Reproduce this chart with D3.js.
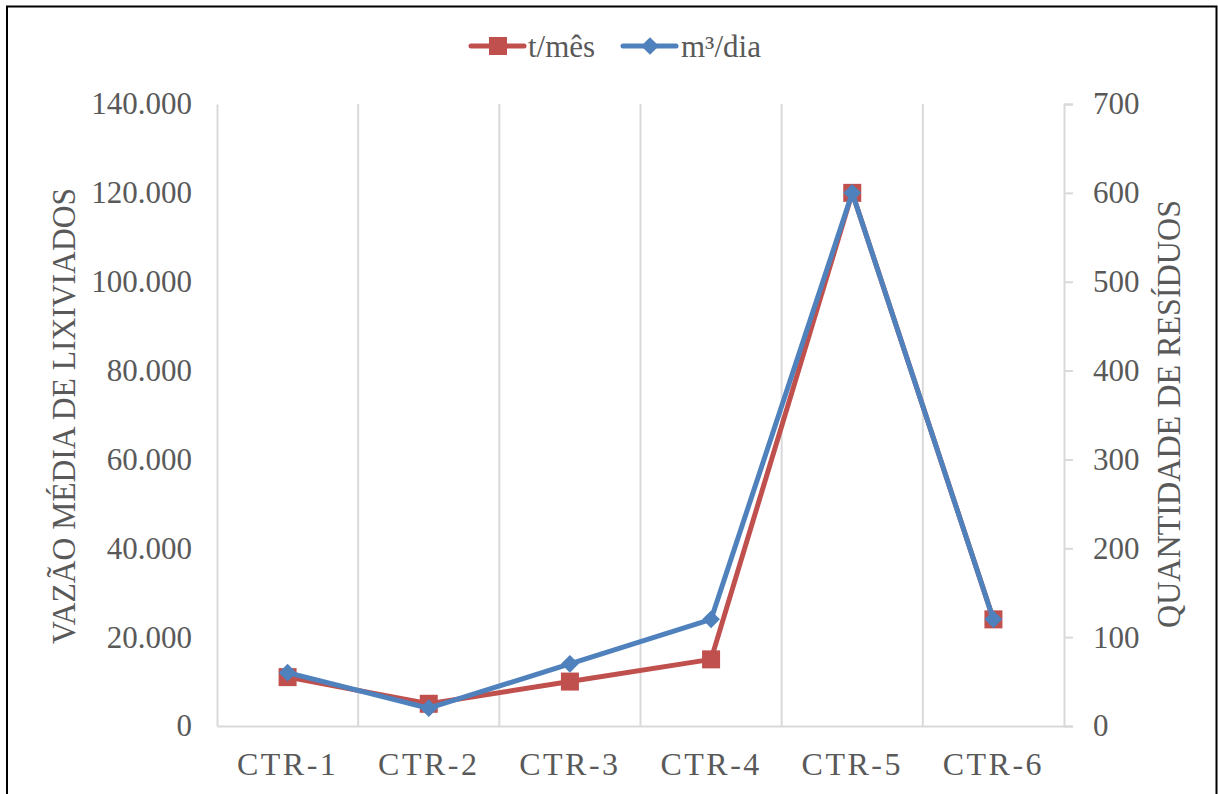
<!DOCTYPE html>
<html>
<head>
<meta charset="utf-8">
<script src="https://cdn.jsdelivr.net/npm/d3@7"></script>
<style>
  html, body { margin: 0; padding: 0; background: #fff; }
  svg { display: block; }
  text { font-family: "Liberation Serif", "Times New Roman", serif; fill: #595959; }
</style>
</head>
<body>
<svg id="chart" width="1218" height="794"></svg>
<script>
// CTR sites and the two measured series
const categories = ["CTR-1", "CTR-2", "CTR-3", "CTR-4", "CTR-5", "CTR-6"];
const tonsPerMonth = [11000, 5000, 10000, 15000, 120000, 24000];   // left axis
const cubicPerDay = [60, 20, 70, 120, 600, 120];                   // right axis
const leftTicks = [0, 20000, 40000, 60000, 80000, 100000, 120000, 140000];
const rightTicks = [0, 100, 200, 300, 400, 500, 600, 700];
const seriesNames = ["t/mês", "m³/dia"];
const leftTitle = "VAZÃO MÉDIA DE LIXIVIADOS";
const rightTitle = "QUANTIDADE DE RESÍDUOS";

const RED = "#C0504D", BLUE = "#4F81BD", GRID = "#D9D9D9";
const svg = d3.select("#chart");

const plot = { left: 217, right: 1064, top: 104, bottom: 726 };

const x = d3.scaleBand().domain(categories).range([plot.left, plot.right]).padding(0);
const yL = d3.scaleLinear().domain([0, 140000]).range([plot.bottom, plot.top]);
const yR = d3.scaleLinear().domain([0, 700]).range([plot.bottom, plot.top]);

const pt = d3.formatLocale({ decimal: ",", thousands: ".", grouping: [3], currency: ["R$", ""] });
const fmt = pt.format(",d");

// outer frame (bottom edge runs past the canvas)
svg.append("path")
  .attr("d", `M7,800 V6.5 H1216.5 V800`)
  .attr("fill", "none").attr("stroke", "#000").attr("stroke-width", 2);

// vertical category separators
const bounds = categories.slice(1).map(c => x(c));
svg.append("g").selectAll("line").data(bounds).join("line")
  .attr("x1", d => d).attr("x2", d => d)
  .attr("y1", plot.top).attr("y2", plot.bottom)
  .attr("stroke", GRID).attr("stroke-width", 2);

// left axis: line + labels, no tick marks
const gL = svg.append("g").attr("transform", `translate(${plot.left},0)`)
  .call(d3.axisLeft(yL).tickValues(leftTicks).tickFormat(fmt).tickSize(0).tickPadding(25));
gL.select(".domain").attr("stroke", GRID).attr("stroke-width", 2);
gL.selectAll("text").attr("font-size", 31).attr("fill", "#595959")
  .attr("font-family", "Liberation Serif, serif");

// right axis: line, outward ticks, labels
const gR = svg.append("g").attr("transform", `translate(${plot.right},0)`)
  .call(d3.axisRight(yR).tickValues(rightTicks).tickFormat(fmt).tickSizeInner(9).tickSizeOuter(9).tickPadding(20));
gR.select(".domain").attr("stroke", GRID).attr("stroke-width", 2);
gR.selectAll(".tick line").attr("stroke", GRID).attr("stroke-width", 2);
gR.selectAll("text").attr("font-size", 31).attr("fill", "#595959")
  .attr("font-family", "Liberation Serif, serif");

// bottom axis
const gB = svg.append("g").attr("transform", `translate(0,${plot.bottom})`)
  .call(d3.axisBottom(x).tickSize(0).tickPadding(0));
gB.select(".domain").attr("stroke", GRID).attr("stroke-width", 2);
gB.selectAll("text").attr("font-size", 32).attr("fill", "#595959")
  .attr("font-family", "Liberation Serif, serif")
  .attr("letter-spacing", 2.5)
  .attr("dy", null).attr("y", 49);

// axis titles
svg.append("text")
  .attr("transform", `translate(75,416) rotate(-90)`)
  .attr("text-anchor", "middle").attr("font-size", 34)
  .attr("textLength", 456).attr("lengthAdjust", "spacingAndGlyphs")
  .text(leftTitle);
svg.append("text")
  .attr("transform", `translate(1180,414) rotate(-90)`)
  .attr("text-anchor", "middle").attr("font-size", 34)
  .attr("textLength", 428).attr("lengthAdjust", "spacingAndGlyphs")
  .text(rightTitle);

// series
const cx = c => x(c) + x.bandwidth() / 2;
const redPts = categories.map((c, i) => [cx(c), yL(tonsPerMonth[i])]);
const bluePts = categories.map((c, i) => [cx(c), yR(cubicPerDay[i])]);
const line = d3.line();

svg.append("path").attr("d", line(redPts)).attr("fill", "none")
  .attr("stroke", RED).attr("stroke-width", 5).attr("stroke-linejoin", "round").attr("stroke-linecap", "round");
svg.append("g").selectAll("rect").data(redPts).join("rect")
  .attr("x", d => d[0] - 9).attr("y", d => d[1] - 9)
  .attr("width", 18).attr("height", 18).attr("fill", RED);

const diamond = d3.symbol().type(d3.symbolDiamond2).size(200);
svg.append("path").attr("d", line(bluePts)).attr("fill", "none")
  .attr("stroke", BLUE).attr("stroke-width", 5).attr("stroke-linejoin", "round").attr("stroke-linecap", "round");
svg.append("g").selectAll("path").data(bluePts).join("path")
  .attr("transform", d => `translate(${d[0]},${d[1]})`)
  .attr("d", diamond).attr("fill", BLUE);

// legend
const legend = [
  { name: seriesNames[0], color: RED, x0: 471, tx: 528, marker: "square" },
  { name: seriesNames[1], color: BLUE, x0: 623, tx: 681, marker: "diamond" }
];
const lg = svg.append("g");
legend.forEach(d => {
  lg.append("line").attr("x1", d.x0).attr("x2", d.x0 + 53).attr("y1", 46).attr("y2", 46)
    .attr("stroke", d.color).attr("stroke-width", 5).attr("stroke-linecap", "round");
  if (d.marker === "square") {
    lg.append("rect").attr("x", d.x0 + 27 - 9).attr("y", 37).attr("width", 18).attr("height", 18).attr("fill", d.color);
  } else {
    lg.append("path").attr("transform", `translate(${d.x0 + 27},46)`).attr("d", diamond).attr("fill", d.color);
  }
  lg.append("text").attr("x", d.tx).attr("y", 57).attr("font-size", 31).text(d.name);
});
</script>
</body>
</html>
